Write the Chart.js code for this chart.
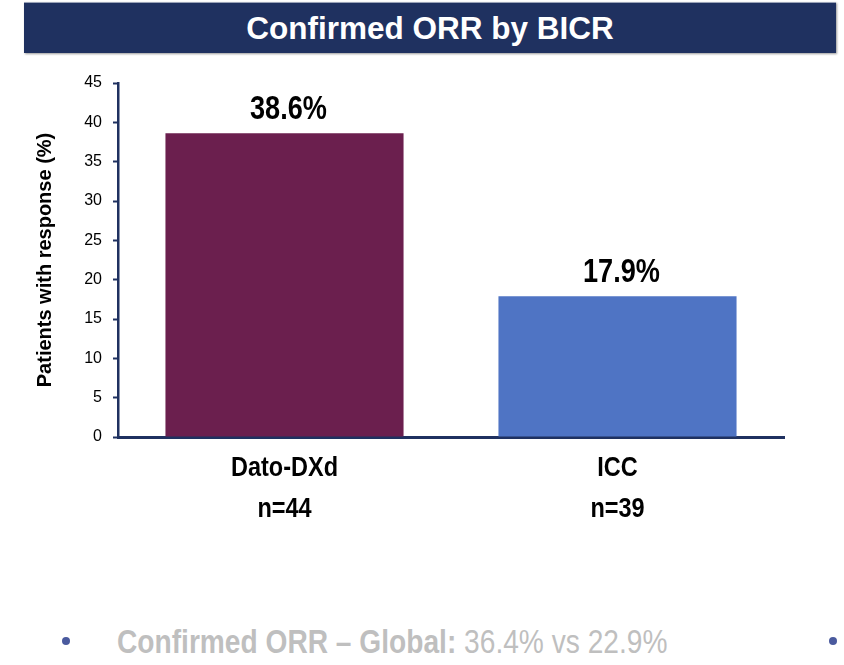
<!DOCTYPE html>
<html>
<head>
<meta charset="utf-8">
<script src="https://cdn.jsdelivr.net/npm/chart.js@4"></script>
<style>
  body { margin: 0; width: 844px; height: 665px; background: #fff; position: relative; overflow: hidden;
         font-family: "Liberation Sans", Arial, sans-serif; }
  #titulo { position: absolute; left: 24px; top: 2px; width: 812px; height: 51px; background: #1f3160;
            color: #fff; font-weight: bold; font-size: 31.5px; text-align: center; line-height: 51px;
            box-shadow: 1px 1px 2px #999; border-top: 1px solid #9aa3b8; box-sizing: border-box; }
  #grafico { position: absolute; left: 0; top: 60px; width: 844px; height: 480px; }
  .ponto { position: absolute; top: 637px; width: 8px; height: 8px; border-radius: 50%; background: #4a5a9e; }
  #rodape { position: absolute; left: 117px; top: 625px; color: #bfbfbf; font-size: 33.5px; line-height: 33.5px;
            white-space: nowrap; transform: scaleX(0.84); transform-origin: left top; }
</style>
</head>
<body>
<div id="titulo">Confirmed ORR by BICR</div>
<div id="grafico"><canvas id="orrChart"></canvas></div>
<div class="ponto" style="left:62px"></div>
<div id="rodape"><b>Confirmed ORR – Global:</b> 36.4% vs 22.9%</div>
<div class="ponto" style="left:829px"></div>
<script>
// dados do gráfico
const braços = ['Dato-DXd', 'ICC'];
const tamanhos = ['n=44', 'n=39'];
const taxaResposta = [38.6, 17.9];
const coresBarras = ['#6b1f4e', '#4f74c4'];

const fonte = '"Liberation Sans", Arial, sans-serif';
const azulEixo = '#1f3160';

// texto "estreito" (a fonte Narrow não existe aqui, então achatamos na horizontal)
function textoEstreito(ctx, texto, x, y, escalaX) {
  ctx.save();
  ctx.translate(x, y);
  ctx.scale(escalaX, 1);
  ctx.fillText(texto, 0, 0);
  ctx.restore();
}

// porcentagens em cima das barras e rótulos das categorias embaixo
const rotulosBarras = {
  id: 'rotulosBarras',
  afterDraw(chart) {
    const ctx = chart.ctx;
    const meta = chart.getDatasetMeta(0);
    const eixoX = chart.scales.x;
    ctx.save();
    ctx.fillStyle = '#000';
    ctx.textAlign = 'center';
    ctx.textBaseline = 'alphabetic';

    ctx.font = 'bold 33.5px ' + fonte;
    meta.data.forEach((barra, i) => {
      textoEstreito(ctx, taxaResposta[i].toFixed(1) + '%', barra.x + 4, barra.y - 14, 0.81);
    });

    ctx.font = 'bold 27px ' + fonte;
    chart.data.labels.forEach((linhas, i) => {
      const x = eixoX.getPixelForTick(i);
      linhas.forEach((txt, j) => {
        textoEstreito(ctx, txt, x, chart.chartArea.bottom + 39 + j * 41, 0.87);
      });
    });
    ctx.restore();
  }
};

const ctx = document.getElementById('orrChart').getContext('2d');
new Chart(ctx, {
  type: 'bar',
  data: {
    labels: braços.map((b, i) => [b, tamanhos[i]]),
    datasets: [{
      data: taxaResposta,
      backgroundColor: coresBarras,
      categoryPercentage: 1,
      barPercentage: 0.715
    }]
  },
  options: {
    responsive: true,
    maintainAspectRatio: false,
    animation: false,
    layout: { padding: { top: 23, right: 60, left: 0, bottom: 0 } },
    plugins: { legend: { display: false }, tooltip: { enabled: false } },
    scales: {
      y: {
        min: 0, max: 45,
        ticks: { stepSize: 5, color: '#000', padding: 11, font: { family: fonte, size: 16 } },
        grid: { drawOnChartArea: false, drawTicks: true, tickLength: 5, tickColor: azulEixo, tickWidth: 2 },
        border: { display: true, color: azulEixo, width: 2.5 },
        title: { display: true, text: 'Patients with response (%)', color: '#000',
                 font: { family: fonte, size: 20, weight: 'bold' },
                 padding: { top: 33, bottom: 0 } },
        afterFit(escala) { escala.width = 118; }
      },
      x: {
        ticks: { display: false },
        grid: { display: false },
        border: { display: true, color: azulEixo, width: 3 },
        afterFit(escala) { escala.height = 103; }
      }
    }
  },
  plugins: [rotulosBarras]
});
</script>
</body>
</html>
